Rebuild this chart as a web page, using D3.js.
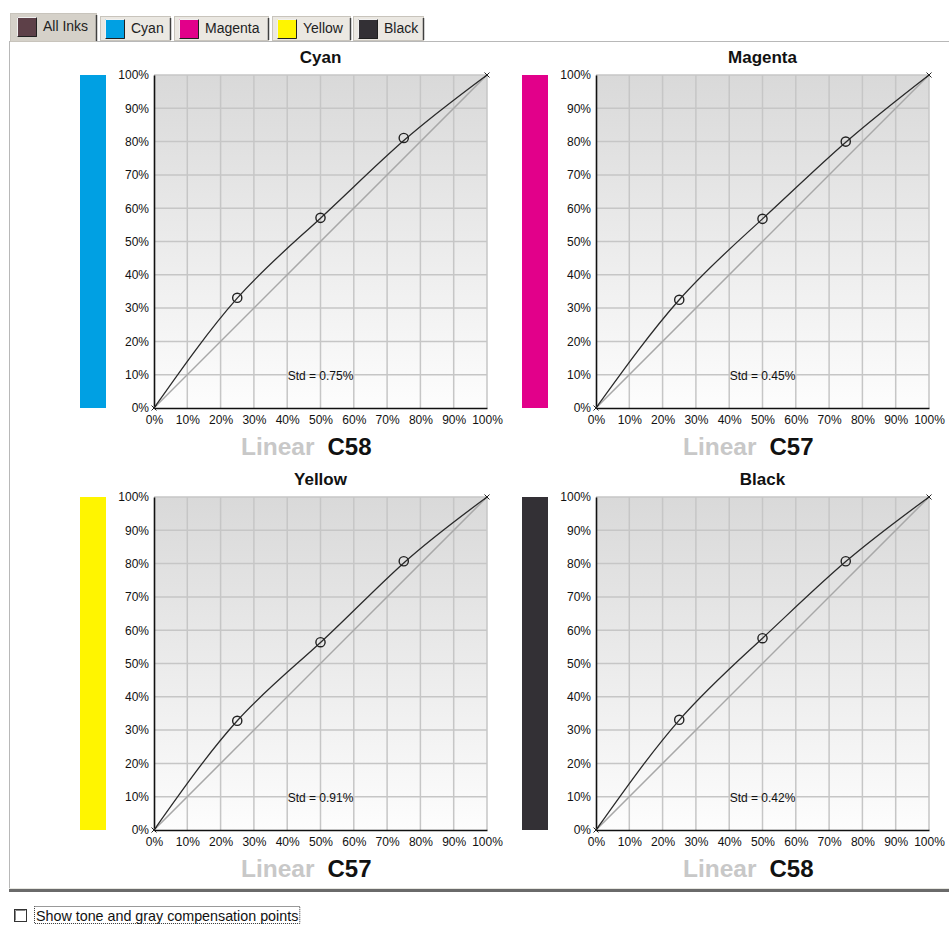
<!DOCTYPE html>
<html><head><meta charset="utf-8">
<script src="https://cdn.jsdelivr.net/npm/d3@7"></script>
<style>
html,body{margin:0;padding:0;background:#fff;}
svg{display:block;}
</style></head>
<body>
<svg id="c" width="949" height="925"></svg>
<script>
// ---- data ----
const tabNames = ["All Inks", "Cyan", "Magenta", "Yellow", "Black"];
const tabColors = ["#5d4048", "#00a0e3", "#e2008a", "#fff500", "#333035"];
const inkNames = ["Cyan", "Magenta", "Yellow", "Black"];
const inkColors = ["#00a0e3", "#e2008a", "#fff500", "#333035"];
const curveInputs = [0, 25, 50, 75, 100];
const cyanCurve = [0, 33, 57, 80.3, 100];
const magentaCurve = [0, 32.5, 56.8, 79.8, 100];
const yellowCurve = [0, 32.8, 56.3, 80.2, 100];
const blackCurve = [0, 33, 57.6, 80.6, 100];
const measuredInputs = [25, 50, 75];
const cyanMeasured = [33.1, 57.1, 81.1];
const magentaMeasured = [32.5, 56.8, 80.0];
const yellowMeasured = [32.8, 56.4, 80.7];
const blackMeasured = [33.1, 57.6, 80.7];
const stdValues = ["0.75%", "0.45%", "0.91%", "0.42%"];
const profileLabels = ["C58", "C57", "C57", "C58"];
const tickValues = [0, 10, 20, 30, 40, 50, 60, 70, 80, 90, 100];
const checkboxLabel = "Show tone and gray compensation points";

const curves = [cyanCurve, magentaCurve, yellowCurve, blackCurve];
const measured = [cyanMeasured, magentaMeasured, yellowMeasured, blackMeasured];

const svg = d3.select("#c");
const defs = svg.append("defs");
const grad = defs.append("linearGradient").attr("id", "bg").attr("x1", 0).attr("y1", 0).attr("x2", 0).attr("y2", 1);
grad.append("stop").attr("offset", "0%").attr("stop-color", "#d9d9d9");
grad.append("stop").attr("offset", "100%").attr("stop-color", "#fdfdfd");

// ---- panel ----
svg.append("rect").attr("x", 9.5).attr("y", 41.5).attr("width", 945).attr("height", 849)
  .attr("fill", "#fff").attr("stroke", "#b8b8b8");
svg.append("rect").attr("x", 9).attr("y", 889).attr("width", 940).attr("height", 3).attr("fill", "#6a6a6a");
svg.append("line").attr("x1", 9).attr("x2", 949).attr("y1", 888.5).attr("y2", 888.5).attr("stroke", "#e6e6e0");

// ---- tabs ----
const tabX = [10, 100, 174, 272, 353];
const tabW = [86, 70, 94, 78, 70];
const tabs = svg.append("g").attr("font-family", "Liberation Sans, Arial, sans-serif").attr("font-size", 14);
tabNames.forEach((name, i) => {
  const sel = i === 0;
  const y0 = sel ? 13 : 16;
  const h = sel ? 28 : 24;
  const g = tabs.append("g");
  g.append("rect").attr("x", tabX[i] + 0.5).attr("y", y0 + 0.5).attr("width", tabW[i]).attr("height", h)
    .attr("fill", sel ? "#d5d1c9" : "#ebe8e2").attr("stroke", "#c8c4bc");
  g.append("line").attr("x1", tabX[i] + tabW[i] + 0.5).attr("x2", tabX[i] + tabW[i] + 0.5)
    .attr("y1", y0 + 2).attr("y2", y0 + h).attr("stroke", "#404040").attr("stroke-width", 1.5);
  const sx = tabX[i] + (sel ? 7 : 5);
  const sy = sel ? 17 : 19;
  g.append("rect").attr("x", sx).attr("y", sy).attr("width", 20).attr("height", 20)
    .attr("fill", tabColors[i]);
  g.append("path").attr("d", `M${sx + 0.5},${sy + 20}V${sy + 0.5}H${sx + 20}`).attr("fill", "none").attr("stroke", "#f0f0f0");
  g.append("path").attr("d", `M${sx + 0.5},${sy + 19.5}H${sx + 19.5}V${sy + 0.5}`).attr("fill", "none").attr("stroke", "#202020");
  g.append("text").attr("x", sx + 26).attr("y", sel ? 31 : 33).attr("fill", "#222").text(name);
});
svg.append("line").attr("x1", 96).attr("x2", 949).attr("y1", 41.5).attr("y2", 41.5).attr("stroke", "#b8b8b8");

// ---- charts ----
const size = 333;
const origins = [[154, 75], [596, 75], [154, 497], [596, 497]];

inkNames.forEach((ink, k) => {
  const [ox, oy] = origins[k];
  const x = d3.scaleLinear().domain([0, 100]).range([ox, ox + size]);
  const y = d3.scaleLinear().domain([0, 100]).range([oy + size, oy]);
  const g = svg.append("g");

  g.append("rect").attr("x", ox - 74).attr("y", oy).attr("width", 26).attr("height", size).attr("fill", inkColors[k]);
  g.append("rect").attr("x", ox).attr("y", oy).attr("width", size).attr("height", size).attr("fill", "url(#bg)");

  g.selectAll(".vg").data(tickValues.slice(1)).join("line")
    .attr("x1", d => x(d)).attr("x2", d => x(d)).attr("y1", oy).attr("y2", oy + size)
    .attr("stroke", "#c6c6c6").attr("stroke-width", 1.5);
  g.selectAll(".hg").data(tickValues.slice(1)).join("line")
    .attr("x1", ox).attr("x2", ox + size).attr("y1", d => y(d)).attr("y2", d => y(d))
    .attr("stroke", "#c6c6c6").attr("stroke-width", 1.5);

  const xAxis = d3.axisBottom(x).tickValues(tickValues).tickFormat(d => d + "%").tickSize(0).tickPadding(7);
  const yAxis = d3.axisLeft(y).tickValues(tickValues).tickFormat(d => d + "%").tickSize(0).tickPadding(5);
  const gx = g.append("g").attr("transform", `translate(0,${oy + size})`).call(xAxis);
  const gy = g.append("g").attr("transform", `translate(${ox},0)`).call(yAxis);
  [gx, gy].forEach(a => {
    a.select(".domain").attr("stroke", "#111").attr("stroke-width", 1.6);
    a.selectAll("text").attr("font-family", "Liberation Sans, Arial, sans-serif").attr("font-size", 12).attr("fill", "#111");
  });

  const line = d3.line().x(d => x(d[0])).y(d => y(d[1]));
  g.append("path").datum([[0, 0], [100, 100]]).attr("d", line)
    .attr("fill", "none").attr("stroke", "#a8a8a8").attr("stroke-width", 1.5);

  const pts = curveInputs.map((v, i) => [v, curves[k][i]]);
  g.append("path").datum(pts).attr("d", line.curve(d3.curveNatural))
    .attr("fill", "none").attr("stroke", "#2a2a2a").attr("stroke-width", 1.3);

  [[0, 0], [100, 100]].forEach(p => {
    const cx = x(p[0]), cy = y(p[1]);
    g.append("path").attr("d", `M${cx - 2.5},${cy - 2.5}L${cx + 2.5},${cy + 2.5}M${cx - 2.5},${cy + 2.5}L${cx + 2.5},${cy - 2.5}`)
      .attr("stroke", "#222").attr("stroke-width", 1);
  });

  g.selectAll(".pt").data(measuredInputs.map((v, i) => [v, measured[k][i]])).join("circle")
    .attr("cx", d => x(d[0])).attr("cy", d => y(d[1])).attr("r", 4.6)
    .attr("fill", "none").attr("stroke", "#222").attr("stroke-width", 1.4);

  g.append("text").attr("x", x(50)).attr("y", y(10) + 5).attr("text-anchor", "middle")
    .attr("font-family", "Liberation Sans, Arial, sans-serif").attr("font-size", 12).attr("fill", "#111")
    .text("Std = " + stdValues[k]);

  g.append("text").attr("x", x(50)).attr("y", oy - 12).attr("text-anchor", "middle")
    .attr("font-family", "Liberation Sans, Arial, sans-serif").attr("font-weight", "bold").attr("font-size", 17)
    .attr("fill", "#111").text(ink);

  g.append("text").attr("x", x(50) - 6).attr("y", oy + size + 47).attr("text-anchor", "end")
    .attr("font-family", "Liberation Sans, Arial, sans-serif").attr("font-weight", "bold").attr("font-size", 24.5)
    .attr("fill", "#c8c8c8").text("Linear");
  g.append("text").attr("x", x(50) + 7).attr("y", oy + size + 47).attr("text-anchor", "start")
    .attr("font-family", "Liberation Sans, Arial, sans-serif").attr("font-weight", "bold").attr("font-size", 24)
    .attr("fill", "#111").text(profileLabels[k]);
});

// ---- checkbox ----
svg.append("rect").attr("x", 14.5).attr("y", 909.5).attr("width", 12).attr("height", 12)
  .attr("fill", "#fff").attr("stroke", "#333");
svg.append("path").attr("d", "M15.5,920.5V910.5H25.5").attr("fill", "none").attr("stroke", "#888");
const cbText = svg.append("text").attr("x", 36).attr("y", 920.5)
  .attr("font-family", "Liberation Sans, Arial, sans-serif").attr("font-size", 14.3).attr("fill", "#111")
  .text(checkboxLabel);
const bb = cbText.node().getBBox();
svg.append("rect").attr("x", bb.x - 1.5).attr("y", 906.5).attr("width", bb.width + 3).attr("height", 17)
  .attr("fill", "none").attr("stroke", "#333").attr("stroke-dasharray", "1,1");
</script>
</body></html>
